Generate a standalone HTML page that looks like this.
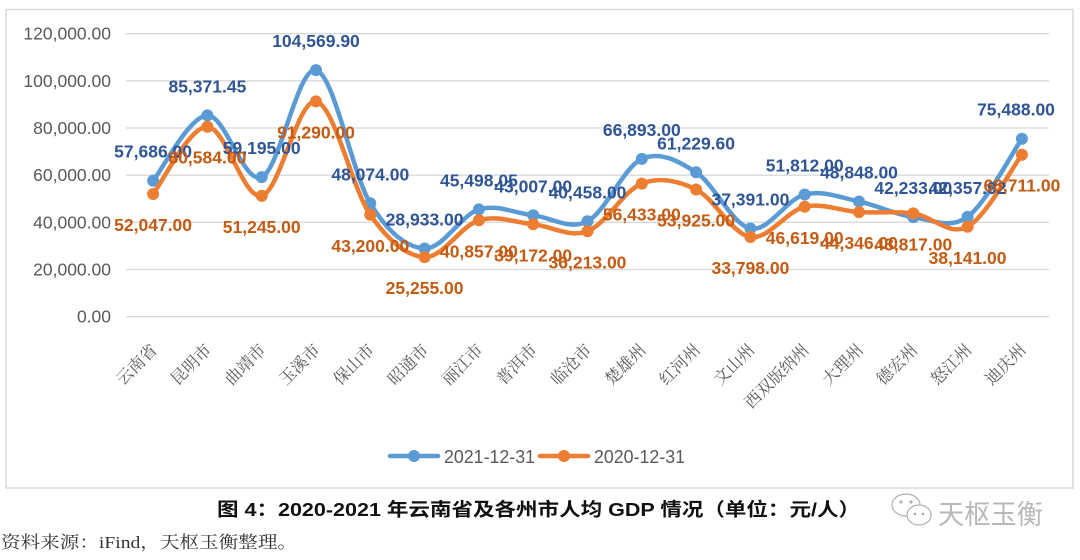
<!DOCTYPE html>
<html>
<head>
<meta charset="utf-8">
<style>
html,body{margin:0;padding:0;background:#fff;}
svg{display:block;}
.yl{font-family:"Liberation Sans","Noto Sans CJK SC",sans-serif;font-size:17.5px;fill:#595959;text-anchor:end;}
.xl{font-family:"Liberation Serif","Noto Serif CJK SC",serif;font-size:16.5px;fill:#595959;text-anchor:end;}
.lb{font-family:"Liberation Sans","Noto Sans CJK SC",sans-serif;font-size:17.5px;font-weight:bold;fill:#2F5597;text-anchor:middle;}
.lo{font-family:"Liberation Sans","Noto Sans CJK SC",sans-serif;font-size:17.5px;font-weight:bold;fill:#C55A11;text-anchor:middle;}
.lg{font-family:"Liberation Sans","Noto Sans CJK SC",sans-serif;font-size:18px;fill:#595959;}
</style>
</head>
<body>
<svg width="1080" height="560" viewBox="0 0 1080 560" xmlns="http://www.w3.org/2000/svg">
<rect x="0" y="0" width="1080" height="560" fill="#fff"/>
<rect x="6" y="9.5" width="1067" height="478.5" fill="#fff" stroke="#d9d9d9" stroke-width="1.5"/>

<g stroke="#d9d9d9" stroke-width="1.3">
<line x1="126" y1="33.7" x2="1049" y2="33.7"/>
<line x1="126" y1="80.8" x2="1049" y2="80.8"/>
<line x1="126" y1="128.0" x2="1049" y2="128.0"/>
<line x1="126" y1="175.2" x2="1049" y2="175.2"/>
<line x1="126" y1="222.3" x2="1049" y2="222.3"/>
<line x1="126" y1="269.5" x2="1049" y2="269.5"/>
<line x1="126" y1="316.7" x2="1049" y2="316.7"/>
</g>

<text class="yl" x="111" y="39.7">120,000.00</text>
<text class="yl" x="111" y="86.8">100,000.00</text>
<text class="yl" x="111" y="134.0">80,000.00</text>
<text class="yl" x="111" y="181.2">60,000.00</text>
<text class="yl" x="111" y="228.3">40,000.00</text>
<text class="yl" x="111" y="275.5">20,000.00</text>
<text class="yl" x="111" y="322.7">0.00</text>

<text class="xl" transform="translate(158.1,351) rotate(-45)">云南省</text>
<text class="xl" transform="translate(212.4,351) rotate(-45)">昆明市</text>
<text class="xl" transform="translate(266.7,351) rotate(-45)">曲靖市</text>
<text class="xl" transform="translate(321.0,351) rotate(-45)">玉溪市</text>
<text class="xl" transform="translate(375.3,351) rotate(-45)">保山市</text>
<text class="xl" transform="translate(429.6,351) rotate(-45)">昭通市</text>
<text class="xl" transform="translate(483.9,351) rotate(-45)">丽江市</text>
<text class="xl" transform="translate(538.2,351) rotate(-45)">普洱市</text>
<text class="xl" transform="translate(592.5,351) rotate(-45)">临沧市</text>
<text class="xl" transform="translate(646.8,351) rotate(-45)">楚雄州</text>
<text class="xl" transform="translate(701.1,351) rotate(-45)">红河州</text>
<text class="xl" transform="translate(755.4,351) rotate(-45)">文山州</text>
<text class="xl" transform="translate(809.7,351) rotate(-45)">西双版纳州</text>
<text class="xl" transform="translate(864.0,351) rotate(-45)">大理州</text>
<text class="xl" transform="translate(918.3,351) rotate(-45)">德宏州</text>
<text class="xl" transform="translate(972.6,351) rotate(-45)">怒江州</text>
<text class="xl" transform="translate(1026.9,351) rotate(-45)">迪庆州</text>

<path fill="none" stroke="#5B9BD5" stroke-width="4.5" stroke-linecap="round" stroke-linejoin="round"
d="M153.1,180.7 C162.15,169.82 189.3,116.0 207.4,115.4 C225.5,114.8 243.6,184.65 261.7,177.1 C279.8,169.55 297.9,65.73 316.0,70.1 C334.1,74.47 352.2,173.57 370.3,203.3 C388.4,233.03 406.5,247.48 424.6,248.5 C442.7,249.52 460.8,214.93 478.9,209.4 C497.0,203.87 515.1,213.32 533.2,215.3 C551.3,217.28 569.4,230.7 587.5,221.3 C605.6,211.9 623.7,167.07 641.8,158.9 C659.9,150.73 678.0,160.7 696.1,172.3 C714.2,183.9 732.3,224.8 750.4,228.5 C768.5,232.2 786.6,199.0 804.7,194.5 C822.8,190.0 840.9,197.73 859.0,201.5 C877.1,205.27 895.2,214.55 913.3,217.1 C931.4,219.65 949.5,229.87 967.6,216.8 C985.7,203.73 1012.85,151.72 1021.9,138.7"/>
<g fill="#5B9BD5">
<circle cx="153.1" cy="180.7" r="6"/>
<circle cx="207.4" cy="115.4" r="6"/>
<circle cx="261.7" cy="177.1" r="6"/>
<circle cx="316.0" cy="70.1" r="6"/>
<circle cx="370.3" cy="203.3" r="6"/>
<circle cx="424.6" cy="248.5" r="6"/>
<circle cx="478.9" cy="209.4" r="6"/>
<circle cx="533.2" cy="215.3" r="6"/>
<circle cx="587.5" cy="221.3" r="6"/>
<circle cx="641.8" cy="158.9" r="6"/>
<circle cx="696.1" cy="172.3" r="6"/>
<circle cx="750.4" cy="228.5" r="6"/>
<circle cx="804.7" cy="194.5" r="6"/>
<circle cx="859.0" cy="201.5" r="6"/>
<circle cx="913.3" cy="217.1" r="6"/>
<circle cx="967.6" cy="216.8" r="6"/>
<circle cx="1021.9" cy="138.7" r="6"/>
</g>

<path fill="none" stroke="#ED7D31" stroke-width="4.5" stroke-linecap="round" stroke-linejoin="round"
d="M153.1,194.0 C162.15,182.78 189.3,126.38 207.4,126.7 C225.5,127.02 243.6,200.12 261.7,195.9 C279.8,191.68 297.9,98.25 316.0,101.4 C334.1,104.55 352.2,188.85 370.3,214.8 C388.4,240.75 406.5,256.18 424.6,257.1 C442.7,258.02 460.8,225.77 478.9,220.3 C497.0,214.83 515.1,222.47 533.2,224.3 C551.3,226.13 569.4,238.08 587.5,231.3 C605.6,224.52 623.7,190.57 641.8,183.6 C659.9,176.63 678.0,180.6 696.1,189.5 C714.2,198.4 732.3,234.12 750.4,237.0 C768.5,239.88 786.6,210.95 804.7,206.8 C822.8,202.65 840.9,211.0 859.0,212.1 C877.1,213.2 895.2,210.95 913.3,213.4 C931.4,215.85 949.5,236.58 967.6,226.8 C985.7,217.02 1012.85,166.72 1021.9,154.7"/>
<g fill="#ED7D31">
<circle cx="153.1" cy="194.0" r="6"/>
<circle cx="207.4" cy="126.7" r="6"/>
<circle cx="261.7" cy="195.9" r="6"/>
<circle cx="316.0" cy="101.4" r="6"/>
<circle cx="370.3" cy="214.8" r="6"/>
<circle cx="424.6" cy="257.1" r="6"/>
<circle cx="478.9" cy="220.3" r="6"/>
<circle cx="533.2" cy="224.3" r="6"/>
<circle cx="587.5" cy="231.3" r="6"/>
<circle cx="641.8" cy="183.6" r="6"/>
<circle cx="696.1" cy="189.5" r="6"/>
<circle cx="750.4" cy="237.0" r="6"/>
<circle cx="804.7" cy="206.8" r="6"/>
<circle cx="859.0" cy="212.1" r="6"/>
<circle cx="913.3" cy="213.4" r="6"/>
<circle cx="967.6" cy="226.8" r="6"/>
<circle cx="1021.9" cy="154.7" r="6"/>
</g>

<text class="lb" x="153.1" y="157.7">57,686.00</text>
<text class="lb" x="207.4" y="92.4">85,371.45</text>
<text class="lb" x="261.7" y="154.1">59,195.00</text>
<text class="lb" x="316.0" y="47.1">104,569.90</text>
<text class="lb" x="370.3" y="180.3">48,074.00</text>
<text class="lb" x="424.6" y="225.5">28,933.00</text>
<text class="lb" x="478.9" y="186.4">45,498.05</text>
<text class="lb" x="533.2" y="192.3">43,007.00</text>
<text class="lb" x="587.5" y="198.3">40,458.00</text>
<text class="lb" x="641.8" y="135.9">66,893.00</text>
<text class="lb" x="696.1" y="149.3">61,229.60</text>
<text class="lb" x="750.4" y="205.5">37,391.00</text>
<text class="lb" x="804.7" y="171.5">51,812.00</text>
<text class="lb" x="859.0" y="178.5">48,848.00</text>
<text class="lb" x="913.3" y="194.1">42,233.00</text>
<text class="lb" x="967.6" y="193.8">42,357.92</text>
<text class="lb" x="1016" y="115.7">75,488.00</text>

<text class="lo" x="153.1" y="231.0">52,047.00</text>
<text class="lo" x="207.4" y="163.7">80,584.00</text>
<text class="lo" x="261.7" y="232.9">51,245.00</text>
<text class="lo" x="316.0" y="138.4">91,290.00</text>
<text class="lo" x="370.3" y="251.8">43,200.00</text>
<text class="lo" x="424.6" y="294.1">25,255.00</text>
<text class="lo" x="478.9" y="257.3">40,857.00</text>
<text class="lo" x="533.2" y="261.3">39,172.00</text>
<text class="lo" x="587.5" y="268.3">36,213.00</text>
<text class="lo" x="641.8" y="220.6">56,433.00</text>
<text class="lo" x="696.1" y="226.5">53,925.00</text>
<text class="lo" x="750.4" y="274.0">33,798.00</text>
<text class="lo" x="804.7" y="243.8">46,619.00</text>
<text class="lo" x="859.0" y="249.1">44,346.00</text>
<text class="lo" x="913.3" y="250.4">43,817.00</text>
<text class="lo" x="967.6" y="263.8">38,141.00</text>
<text class="lo" x="1021.9" y="191.7">68,711.00</text>

<line x1="390" y1="456" x2="438" y2="456" stroke="#5B9BD5" stroke-width="4.5" stroke-linecap="round"/>
<circle cx="414" cy="456" r="6" fill="#5B9BD5"/>
<text class="lg" x="444" y="463" textLength="91" lengthAdjust="spacingAndGlyphs">2021-12-31</text>
<line x1="540" y1="456" x2="588" y2="456" stroke="#ED7D31" stroke-width="4.5" stroke-linecap="round"/>
<circle cx="564" cy="456" r="6" fill="#ED7D31"/>
<text class="lg" x="594" y="463" textLength="91" lengthAdjust="spacingAndGlyphs">2020-12-31</text>

<text x="217" y="516" textLength="643" lengthAdjust="spacingAndGlyphs" style="font-family:'Liberation Sans','Noto Sans CJK SC',sans-serif;font-size:18.5px;font-weight:bold;fill:#111;">图 4：2020-2021 年云南省及各州市人均 GDP 情况（单位：元/人）</text>

<g fill="#fff" stroke="#b0b0b0" stroke-width="1.2">
<ellipse cx="906" cy="505" rx="14" ry="11"/>
<ellipse cx="919" cy="515" rx="12" ry="10"/>
</g>
<g fill="#b0b0b0">
<circle cx="901" cy="502" r="1.6"/>
<circle cx="911" cy="502" r="1.6"/>
<circle cx="915" cy="514" r="1.4"/>
<circle cx="923" cy="514" r="1.4"/>
</g>
<text x="938" y="524" textLength="105" lengthAdjust="spacingAndGlyphs" style="font-family:'Liberation Sans','Noto Sans CJK SC',sans-serif;font-size:27px;font-weight:normal;fill:#b8b8b8;">天枢玉衡</text>

<text x="1" y="548" textLength="296" lengthAdjust="spacingAndGlyphs" style="font-family:'Liberation Serif','Noto Serif CJK SC',serif;font-size:17px;fill:#333;">资料来源：iFind，天枢玉衡整理。</text>
</svg>
</body>
</html>
